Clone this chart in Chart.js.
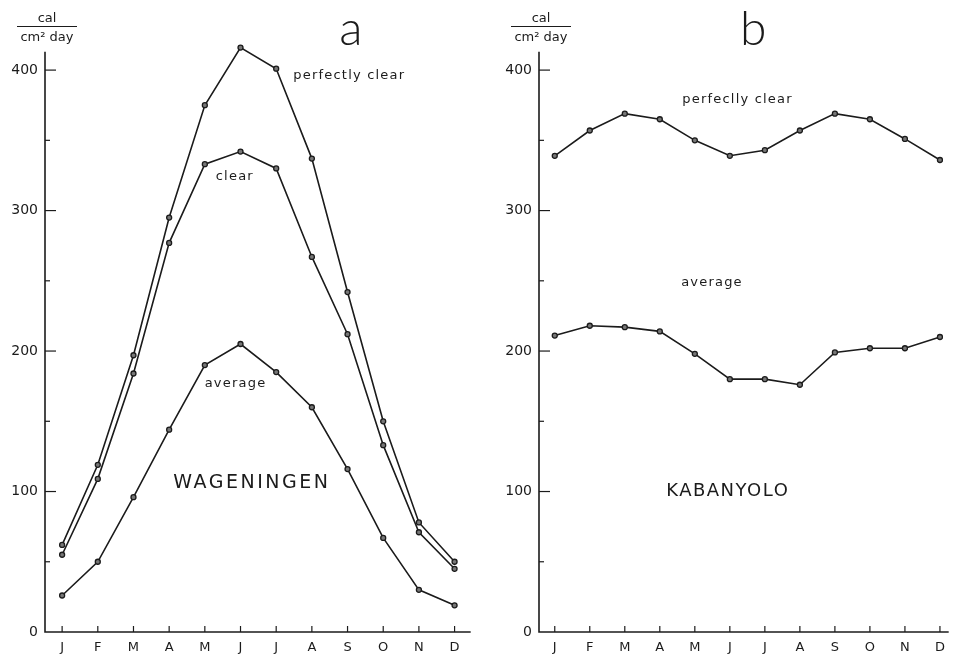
<!DOCTYPE html>
<html>
<head>
<meta charset="utf-8">
<script src="https://cdn.jsdelivr.net/npm/chart.js@4.4.1/dist/chart.umd.min.js"></script>
<style>
  html, body { margin: 0; padding: 0; background: #fff; }
  #wrap { position: relative; width: 954px; height: 655px; overflow: hidden; }
  canvas { position: absolute; top: 0; }
  #chartA { left: 0; }
  #chartB { left: 477px; }
</style>
</head>
<body>
<div id="wrap">
  <canvas id="chartA" width="477" height="655"></canvas>
  <canvas id="chartB" width="477" height="655"></canvas>
</div>
<script>
// month labels on the x axis
const months = ['J', 'F', 'M', 'A', 'M', 'J', 'J', 'A', 'S', 'O', 'N', 'D'];
const yTickValues = [0, 50, 100, 150, 200, 250, 300, 350, 400];

// a: Wageningen (cal / cm2 day)
const wagPerfectlyClear = [62, 119, 197, 295, 375, 416, 401, 337, 242, 150, 78, 50];
const wagClear = [55, 109, 184, 277, 333, 342, 330, 267, 212, 133, 71, 45];
const wagAverage = [26, 50, 96, 144, 190, 205, 185, 160, 116, 67, 30, 19];

// b: Kabanyolo
const kabPerfectlyClear = [339, 357, 369, 365, 350, 339, 343, 357, 369, 365, 351, 336];
const kabAverage = [211, 218, 217, 214, 198, 180, 180, 176, 199, 202, 202, 210];

// text labels, placed in data coordinates [x index, y value]
const labelsA = [
  { text: 'perfectly clear', at: [6.48, 396], align: 'left', size: 13, gap: 1.2 },
  { text: 'clear', at: [4.84, 324], align: 'center', size: 13, gap: 1.2 },
  { text: 'average', at: [4.86, 177], align: 'center', size: 13, gap: 1.2 },
  { text: 'WAGENINGEN', at: [5.32, 106], align: 'center', size: 19, gap: 2.5 }
];
const labelsB = [
  { text: 'perfeclly clear', at: [5.22, 379], align: 'center', size: 13, gap: 1.2 },
  { text: 'average', at: [4.49, 249], align: 'center', size: 13, gap: 1.2 },
  { text: 'KABANYOLO', at: [4.94, 100], align: 'center', size: 18, gap: 1.5 }
];

const INK = '#1b1b1b';
const FONT = '"DejaVu Sans", sans-serif';

function toXY(arr) {
  return arr.map((v, i) => ({ x: i, y: v }));
}

function lineSet(values) {
  return {
    data: toXY(values),
    borderColor: INK,
    borderWidth: 1.6,
    pointRadius: 2.5,
    pointBorderWidth: 1.3,
    pointBorderColor: INK,
    pointBackgroundColor: '#777',
    tension: 0,
    fill: false
  };
}

// axis lines, inward tick marks, unit label, panel letter and text labels
const decorations = {
  id: 'decorations',
  afterDraw(chart, args, opts) {
    const ctx = chart.ctx;
    const xs = chart.scales.x, ys = chart.scales.y;
    const ax = chart.chartArea.left;
    const y0 = ys.getPixelForValue(0);
    ctx.save();
    ctx.strokeStyle = INK;
    ctx.fillStyle = INK;
    ctx.lineWidth = 1.6;
    // axes
    ctx.beginPath();
    ctx.moveTo(ax, ys.getPixelForValue(413));
    ctx.lineTo(ax, y0);
    ctx.lineTo(chart.chartArea.right - opts.xEndTrim, y0);
    ctx.stroke();
    // y ticks pointing inwards
    ctx.lineWidth = 1.2;
    ys.ticks.forEach(t => {
      const py = ys.getPixelForValue(t.value);
      const len = t.value % 100 === 0 ? 11 : 5;
      if (t.value === 0) return;
      ctx.beginPath();
      ctx.moveTo(ax, py);
      ctx.lineTo(ax + len, py);
      ctx.stroke();
    });
    // x ticks pointing up
    xs.ticks.forEach(t => {
      const px = xs.getPixelForValue(t.value);
      ctx.beginPath();
      ctx.moveTo(px, y0);
      ctx.lineTo(px, y0 - 6);
      ctx.stroke();
    });
    // unit label
    const cx = ax + 2;
    ctx.font = '13px ' + FONT;
    ctx.textAlign = 'center';
    ctx.textBaseline = 'alphabetic';
    ctx.fillText('cal', cx, 22);
    ctx.lineWidth = 1.1;
    ctx.beginPath();
    ctx.moveTo(cx - 30, 26.5);
    ctx.lineTo(cx + 30, 26.5);
    ctx.stroke();
    ctx.fillText('cm\u00B2 day', cx, 41);
    // panel letter
    ctx.font = '300 48px Lato, ' + FONT;
    ctx.textAlign = 'center';
    ctx.fillText(opts.letter.text, xs.getPixelForValue(opts.letter.at[0]), ys.getPixelForValue(opts.letter.at[1]));
    // curve / site labels
    ctx.textBaseline = 'middle';
    opts.labels.forEach(l => {
      ctx.font = l.size + 'px ' + FONT;
      ctx.letterSpacing = l.gap + 'px';
      ctx.textAlign = l.align;
      ctx.fillText(l.text, xs.getPixelForValue(l.at[0]), ys.getPixelForValue(l.at[1]));
    });
    ctx.restore();
  }
};

function makeChart(id, seriesList, xMin, xMax, axisWidth, labels, letter, xEndTrim) {
  return new Chart(document.getElementById(id), {
    type: 'line',
    data: { datasets: seriesList.map(lineSet) },
    plugins: [decorations],
    options: {
      responsive: false,
      animation: false,
      layout: { padding: { top: 42, right: 0, left: 0, bottom: 0 } },
      plugins: {
        legend: { display: false },
        tooltip: { enabled: false },
        decorations: { labels: labels, letter: letter, xEndTrim: xEndTrim }
      },
      scales: {
        x: {
          type: 'linear',
          min: xMin,
          max: xMax,
          afterBuildTicks: s => { s.ticks = months.map((m, i) => ({ value: i })); },
          afterFit: s => { s.height = 23; },
          grid: { display: false, drawTicks: false },
          border: { display: false },
          ticks: {
            autoSkip: false,
            maxRotation: 0,
            padding: 8,
            color: INK,
            font: { family: FONT, size: 13 },
            callback: v => months[v]
          }
        },
        y: {
          type: 'linear',
          min: 0,
          max: 420,
          afterBuildTicks: s => { s.ticks = yTickValues.map(v => ({ value: v })); },
          afterFit: s => { s.width = axisWidth; },
          grid: { display: false, drawTicks: false },
          border: { display: false },
          ticks: {
            padding: 7,
            color: INK,
            font: { family: FONT, size: 14 },
            callback: v => (v % 100 === 0 ? v : '')
          }
        }
      }
    }
  });
}

makeChart('chartA', [wagPerfectlyClear, wagClear, wagAverage], -0.48, 11.48, 45,
  labelsA, { text: 'a', at: [8.09, 418] }, 1);
makeChart('chartB', [kabPerfectlyClear, kabAverage], -0.45, 11.25, 62,
  labelsB, { text: 'b', at: [5.67, 418] }, 0);
</script>
</body>
</html>
